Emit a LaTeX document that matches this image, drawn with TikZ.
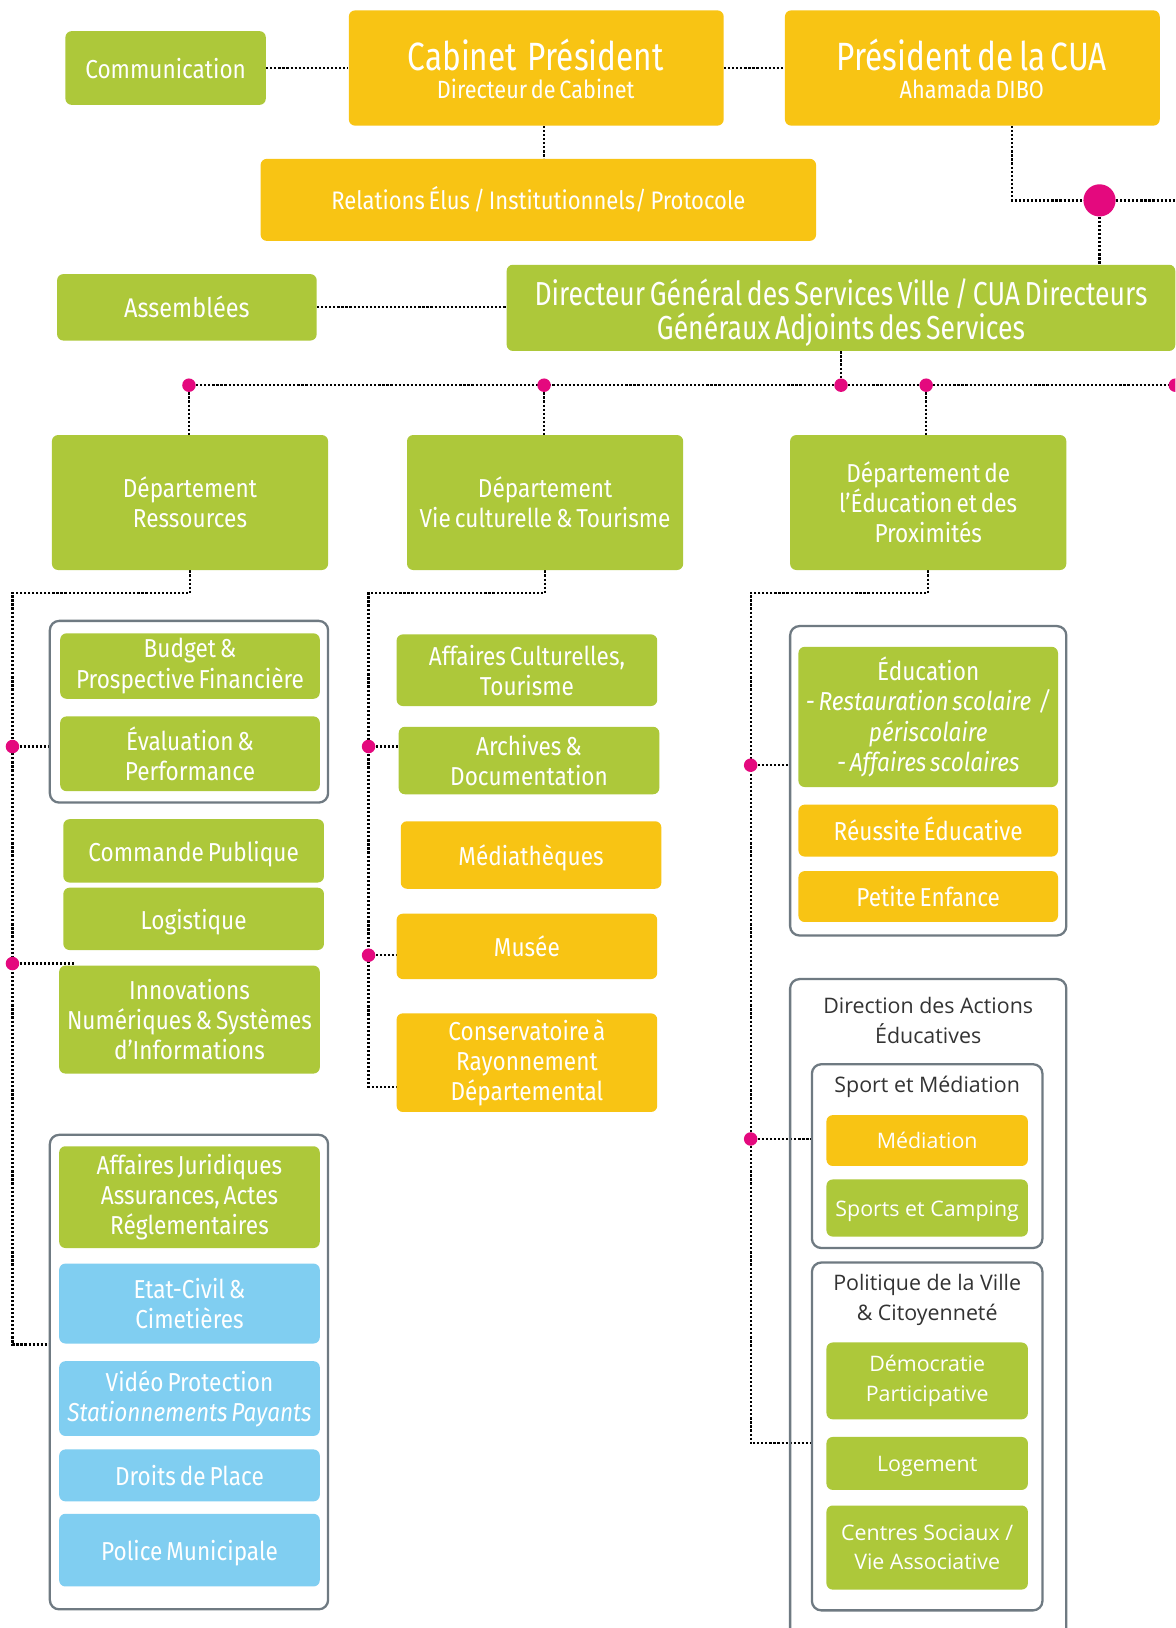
\documentclass[tikz,border=0pt]{standalone}
\usepackage{fontspec}
\setmainfont{Fira Sans}[FakeStretch=0.87, WordSpace=0.65]
\newfontfamily\bigfont{Fira Sans}[FakeStretch=0.8, WordSpace=0.65]
\newfontfamily\osans{Open Sans}
\usetikzlibrary{backgrounds}
\definecolor{cgreen}{HTML}{ADC83A}
\definecolor{cyellow}{HTML}{F8C414}
\definecolor{cblue}{HTML}{80CEF1}
\definecolor{cpink}{HTML}{E4097E}
\definecolor{cgray}{HTML}{6F7A82}
\definecolor{cdark}{HTML}{333333}
\begin{document}
\begin{tikzpicture}[x=0.5pt,y=-0.5pt,
  bx/.style={rounded corners=3pt, inner sep=0pt, align=center, text=white, font=\fontsize{12.5}{14.5}\selectfont},
  sl/.style={execute at begin node={\rule{0pt}{1.064em}}, execute at end node={\rule[-0.28em]{0pt}{0.28em}}},
  grn/.style={bx, fill=cgreen},
  ylw/.style={bx, fill=cyellow},
  blu/.style={bx, fill=cblue},
  osn/.style={font=\osans\fontsize{10.3}{14}\selectfont},
  grp/.style={draw=cgray, line width=1.1pt, rounded corners=4.5pt, inner sep=0pt},
  sz/.style 2 args={minimum width=#1*0.5pt, minimum height=#2*0.5pt},
  link/.style={line width=1.1pt, dash pattern=on 1.05pt off 0.9pt},
  pdot/.style={circle, fill=cpink, inner sep=0pt, minimum size=6.5pt},
  bigdot/.style={circle, fill=cpink, inner sep=0pt, minimum size=15.5pt},
  ttl/.style={text=white, inner sep=0pt, align=center},
  gtitle/.style={text=cdark, inner sep=0pt, align=center, font=\osans\fontsize{10.3}{14.5}\selectfont},
]
\useasboundingbox (0,0) rectangle (1132,1568);
\clip (0,0) rectangle (1132,1568);

% top row
\node[grn, sl, sz={193}{71}] (comm) at (159.5,65.5) {Communication};
\node[ylw, sz={361}{111}] (cab) at (516.5,65.5) {};
\node[ttl, font=\bigfont\fontsize{19}{20}\selectfont] (cabT) at (516,53) {Cabinet\ \ Président};
\node[ttl, font=\fontsize{12}{14}\selectfont] (cabS) at (516,86) {Directeur de Cabinet};
\node[ylw, sz={361}{111}] (pres) at (936.5,65.5) {};
\node[ttl, font=\bigfont\fontsize{19}{20}\selectfont] (presT) at (936,53) {Président de la CUA};
\node[ttl, font=\fontsize{12}{14}\selectfont] (presS) at (936,86) {Ahamada DIBO};
\node[ylw, sl, sz={535}{79}, font=\fontsize{12.2}{14.5}\selectfont] (rel) at (518.5,192.5) {Relations Élus / Institutionnels/ Protocole};
\node[grn, sl, sz={250}{64}, font=\fontsize{13}{15}\selectfont] (ass) at (180,296) {Assemblées};
\node[grn, sz={644}{83}] (dgs) at (810,296.5) {};
\node[ttl, font=\bigfont\fontsize{16}{16.5}\selectfont] (dgsT) at (810,301) {Directeur Général des Services Ville / CUA Directeurs\\Généraux Adjoints des Services};

% departments
\node[grn, sz={266}{130}] (res) at (183,484) {Département\\Ressources};
\node[grn, sz={266}{130}] (vie) at (525,484) {Département\\Vie culturelle \& Tourisme};
\node[grn, sz={266}{130}] (edu) at (894,484) {Département de\\l’Éducation et des\\Proximités};

% column 1
\node[grp, sz={268}{175}] (g1) at (182,685.5) {};
\node[grn, sz={250}{63}] (budget) at (183,641.5) {Budget \&\\Prospective Financière};
\node[grn, sz={250}{72}] (eval) at (183,726) {Évaluation \&\\Performance};
\node[grn, sl, sz={251}{61}] (cmd) at (186.5,819.5) {Commande Publique};
\node[grn, sl, sz={251}{60}] (logi) at (186.5,885) {Logistique};
\node[grn, sz={251}{104}] (inno) at (182.5,982) {Innovations\\Numériques \& Systèmes\\d’Informations};
\node[grp, sz={268}{457}] (g2) at (182,1321.5) {};
\node[grn, sz={251}{98}] (aj) at (182.5,1153) {Affaires Juridiques\\Assurances, Actes\\Réglementaires};
\node[blu, sz={251}{77}] (ec) at (182.5,1255.5) {Etat-Civil \&\\Cimetières};
\node[blu, sz={251}{72}] (vid) at (182.5,1347) {Vidéo Protection\\\textit{Stationnements Payants}};
\node[blu, sl, sz={251}{50}] (dpl) at (182.5,1421) {Droits de Place};
\node[blu, sl, sz={251}{70}] (pm) at (182.5,1493) {Police Municipale};

% column 2
\node[grn, sz={251}{69}] (acul) at (507.5,645.5) {Affaires Culturelles,\\Tourisme};
\node[grn, sz={251}{65}] (arch) at (509.5,732.5) {Archives \&\\Documentation};
\node[ylw, sl, sz={251}{65}] (med) at (511.5,823.5) {Médiathèques};
\node[ylw, sl, sz={251}{63}] (mus) at (507.5,911.5) {Musée};
\node[ylw, sz={251}{95}] (cons) at (507.5,1023.5) {Conservatoire à\\Rayonnement\\Départemental};

% column 3
\node[grp, sz={266}{298}] (g3) at (894,752) {};
\node[grn, sz={250}{135}] (educ) at (894,690.5) {Éducation\\\textit{- Restauration scolaire\ \ /}\\\textit{périscolaire}\\\textit{- Affaires scolaires}};
\node[ylw, sl, sz={250}{50}] (reus) at (894,800) {Réussite Éducative};
\node[ylw, sl, sz={250}{49}] (pe) at (894,863.5) {Petite Enfance};
\node[grp, sz={266}{657}] (g4) at (894,1271.5) {};
\node[gtitle] (g4t) at (894,982.5) {Direction des Actions\\Éducatives};
\node[grp, sz={222}{177}] (g5) at (893,1113.5) {};
\node[gtitle] (g5t) at (893,1047) {Sport et Médiation};
\node[ylw, osn, sl, sz={194}{49}] (medn) at (893,1098.5) {Médiation};
\node[grn, osn, sl, sz={194}{55}] (spc) at (893,1163.5) {Sports et Camping};
\node[grp, sz={222}{335}] (g6) at (893,1383.5) {};
\node[gtitle] (g6t) at (893,1252) {Politique de la Ville\\\& Citoyenneté};
\node[grn, osn, sz={194}{74}] (demo) at (893,1330) {Démocratie\\Participative};
\node[grn, osn, sl, sz={194}{51}] (loge) at (893,1409.5) {Logement};
\node[grn, osn, sz={194}{81}] (cs) at (893,1490.5) {Centres Sociaux /\\Vie Associative};

% dots
\node[bigdot] (bd) at (1059,193) {};
\node[pdot] (d1) at (182,371) {};
\node[pdot] (d2) at (524,371) {};
\node[pdot] (d3) at (810,371) {};
\node[pdot] (d4) at (892,371) {};
\node[pdot] (d5) at (1132,371) {};
\node[pdot] (dl1) at (12,719) {};
\node[pdot] (dl2) at (12,928) {};
\node[pdot] (dm1) at (355,719) {};
\node[pdot] (dm2) at (355,920) {};
\node[pdot] (dr1) at (723,737) {};
\node[pdot] (dr2) at (723,1097) {};

\coordinate (cabP) at ([xshift=3.75pt]cab.south);
\coordinate (presP) at ([xshift=19.25pt]pres.south);
\coordinate (redge) at (1140,193);
\coordinate (lb1) at (12,571);
\coordinate (lb1e) at (48,1295);
\coordinate (dl2e) at (73,928);
\coordinate (lb2) at (355,571);
\coordinate (lb2e) at (382,1047);
\coordinate (lb3) at (723,571);
\coordinate (lb3e) at (782,1390);

\begin{scope}[on background layer]
\fill[white] (0,0) rectangle (1132,1568);
\draw[link] (comm) -- (cab);
\draw[link] (cab) -- (pres);
\draw[link] (cabP) -- (cabP |- rel.north);
\draw[link] (presP) |- (bd);
\draw[link] (bd) -- (redge);
\draw[link] (bd) -- (bd |- dgs.north);
\draw[link] (ass) -- (ass -| dgs.west);
\draw[link] (dgs.south) -- (d3);
\draw[link] (d1) -- (d5);
\draw[link] (d1) -- (d1 |- res.north);
\draw[link] (d2) -- (d2 |- vie.north);
\draw[link] (d4) -- (d4 |- edu.north);
\draw[link] (res.south) |- (lb1) |- (lb1e);
\draw[link] (dl1) -- (dl1 -| g1.west);
\draw[link] (dl2) -- (dl2e);
\draw[link] (vie.south) |- (lb2) |- (lb2e);
\draw[link] (dm1) -- (dm1 -| arch.west);
\draw[link] (dm2) -- (dm2 -| mus.west);
\draw[link] (edu.south) |- (lb3) |- (lb3e);
\draw[link] (dr1) -- (dr1 -| g3.west);
\draw[link] (dr2) -- (dr2 -| g5.west);
\end{scope}
\end{tikzpicture}
\end{document}
